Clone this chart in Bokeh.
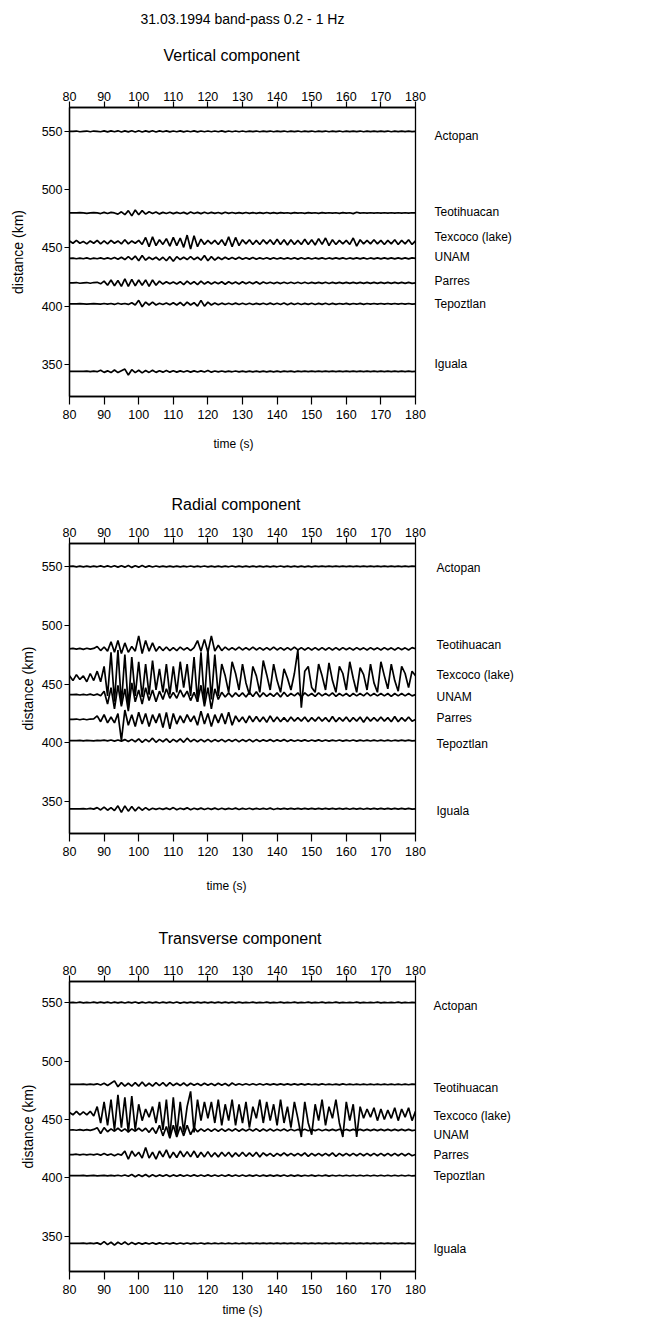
import math
from bokeh.plotting import figure
from bokeh.models import Range1d, LinearAxis, FixedTicker, AllLabels
from bokeh.core.properties import value
from bokeh.layouts import column
from bokeh.embed import file_html
from bokeh.resources import INLINE

# ---------------- data ----------------
main_title = "31.03.1994  band-pass 0.2 - 1 Hz"
panel_titles = ["Vertical component", "Radial component", "Transverse component"]
x_label = "time (s)"
y_label = "distance (km)"
x_ticks = [80, 90, 100, 110, 120, 130, 140, 150, 160, 170, 180]
y_ticks = [350, 400, 450, 500, 550]
time_s = list(range(80, 181))  # 1-s samples

stations = ["Actopan", "Teotihuacan", "Texcoco (lake)", "UNAM", "Parres", "Tepoztlan", "Iguala"]
distance_km = [550, 480, 455, 441, 420, 402, 344]

# trace deflections (km on the distance axis), one sample per second, 80..180 s
# ---- Vertical component
v_actopan = [0, 0, 0.3, -0.3, 0, 0.3, -0.3, 0.3, 0, -0.3,
             0.4, -0.4, 0.4, -0.3, 0.5, -0.5, 0.4, -0.4, 0.5, -0.5,
             0.6, -0.5, 0.4, -0.4, 0.5, -0.5, 0.4, -0.3, 0.4, -0.4,
             0.3, -0.3, 0.4, -0.4, 0.3, -0.3, 0.4, -0.4, 0.3, -0.3,
             0.3, -0.3, 0.3, -0.3, 0.4, -0.4, 0.3, -0.3, 0.3, -0.3,
             0.3, -0.3, 0.2, -0.2, 0.3, -0.3, 0.2, -0.2, 0.3, -0.3,
             0.2, -0.2, 0.3, -0.3, 0.2, -0.2, 0.3, -0.3, 0.2, -0.2,
             0.3, -0.3, 0.2, -0.2, 0.3, -0.3, 0.2, -0.2, 0.3, -0.3,
             0.2, -0.2, 0.2, -0.2, 0.3, -0.3, 0.2, -0.2, 0.2, -0.2,
             0.2, -0.2, 0.3, -0.3, 0.2, -0.2, 0.2, -0.2, 0.2, -0.2, 0]
v_teotihuacan = [0, 0, 0, 0.3, 0, -0.3, 0, 0.3, 0, -0.5,
                 0.5, -0.5, 0.5, 0, -1, 1, -1.5, 2, -2.5, 2.5,
                 -1.5, 2, -1, 1, -0.5, 0.8, -0.8, 0.5, -0.5, 0.6,
                 -0.6, 0.5, -0.5, 0.5, -0.8, 0.8, -0.5, 0.5, -0.6, 0.6,
                 -0.5, 0.5, -0.4, 0.4, -0.6, 0.6, -0.4, 0.4, -0.3, 0.3,
                 -0.4, 0.4, -0.3, 0.3, -0.3, 0.3, -0.4, 0.4, -0.3, 0.3,
                 -0.3, 0.3, -0.2, 0.2, -0.3, 0.3, -0.2, 0.2, -0.3, 0.3,
                 -0.2, 0.2, -0.3, 0.3, -0.2, 0.2, -0.2, 0.2, -0.3, 0.3,
                 -0.2, 0.2, -0.6, 0.6, -0.2, 0.2, -0.2, 0.2, -0.2, 0.2,
                 -0.2, 0.2, -0.2, 0.2, -0.2, 0.2, -0.2, 0.2, -0.2, 0.2, 0]
v_texcoco = [1, -1, 1.5, -1, 0.5, -1.5, 1, -1, 1.5, -1.5,
             1, -1.5, 1.5, -1, 1, -1.5, 2, -1.5, 1, -1,
             1.5, -2, 4, -4, 4.5, -3, 2, -2, 3, -3.5,
             4, -3, 3.5, -4.5, 6, -6, 5.5, -4, 2.5, -2,
             1.5, -1.5, 1.5, -2, 2, -3, 4.5, -4, 4, -3,
             2, -1.5, 2, -2, 1.5, -2, 2, -1.5, 2, -2,
             2.5, -2, 2, -2.5, 2, -2, 1.5, -2, 2.5, -2,
             2, -2.5, 3, -2, 3.5, -3, 2, -2, 1.5, -1.5,
             1.5, -2, 3.5, -3.5, 2, -1.5, 1.5, -1.5, 2, -1.5,
             1.5, -2, 1.5, -1.5, 2, -2, 1.5, -1.5, 2, -2, 1]
v_unam = [0, 0.3, -0.3, 0.3, -0.3, 0.5, -0.5, 0.3, -0.3, 0.5,
          -0.5, 0.5, -0.5, 0.8, -0.8, 1, -1, 1.5, -1, 2,
          -2, 2.5, -1.5, 1, -1, 1, -1.5, 1, -2, 1.5,
          -2.5, 1.5, -1, 1, -1, 1.5, -1, 1, -1.5, 2.5,
          -2, 1.5, -1.5, 1, -1, 1, -0.8, 0.8, -0.8, 1,
          -0.8, 0.6, -0.6, 0.8, -0.8, 0.5, -0.5, 0.6, -0.6, 0.5,
          -0.5, 0.5, -0.5, 0.5, -0.5, 0.5, -0.6, 0.6, -0.5, 0.5,
          -0.5, 0.4, -0.4, 0.5, -0.5, 0.4, -0.4, 0.4, -0.4, 0.5,
          -0.5, 0.4, -0.4, 0.4, -0.4, 0.5, -0.5, 0.4, -0.4, 0.4,
          -0.4, 0.4, -0.4, 0.4, -0.4, 0.4, -0.4, 0.4, -0.4, 0.4, 0]
v_parres = [0, 0, 0.3, -0.3, 0, 0.3, -0.3, 0.3, 0.5, -0.8,
            1.5, -2, 2.5, -2.5, 2, -3, 3.5, -3, 3, -2.5,
            2.5, -2, 2.5, -3, 2.5, -2, 1.5, -1, 1, -0.8,
            0.8, -1, 1, -1.5, 1.5, -1, 1, -1.5, 1.5, -1,
            1, -1, 0.8, -0.8, 1, -1.2, 1, -0.8, 0.8, -1,
            1, -0.8, 0.8, -0.8, 1, -1, 0.8, -0.6, 0.6, -0.6,
            0.5, -0.6, 0.6, -0.5, 0.5, -0.5, 0.5, -0.5, 0.5, -0.5,
            0.4, -0.4, 0.4, -0.4, 0.5, -0.5, 0.4, -0.4, 0.4, -0.4,
            0.4, -0.4, 0.4, -0.4, 0.4, -0.4, 0.4, -0.4, 0.4, -0.4,
            0.4, -0.4, 0.4, -0.4, 0.4, -0.4, 0.4, -0.4, 0.4, -0.4, 0]
v_tepoztlan = [0, 0, 0, 0.2, 0, -0.2, 0, 0.2, 0, -0.2,
               0.3, -0.3, 0.3, -0.5, 0.5, -0.3, 0.3, -0.5, 1, -1,
               3, -2.5, 1.5, -1, 1.5, -1, 0.5, -0.5, 0.8, -0.8,
               1, -1, 1.2, -1.5, 1.5, -1, 1, -2, 3, -2,
               1.5, -1, 0.8, -0.8, 0.6, -0.6, 0.5, -0.5, 0.6, -0.6,
               0.5, -0.5, 0.5, -0.5, 0.4, -0.4, 0.5, -0.5, 0.6, -0.6,
               0.5, -0.5, 0.8, -0.8, 0.6, -0.6, 0.5, -0.5, 0.4, -0.4,
               0.5, -0.5, 0.4, -0.4, 0.5, -0.5, 0.4, -0.4, 0.3, -0.3,
               0.4, -0.4, 0.3, -0.3, 0.4, -0.4, 0.3, -0.3, 0.3, -0.3,
               0.3, -0.3, 0.3, -0.3, 0.3, -0.3, 0.3, -0.3, 0.3, -0.3, 0]
v_iguala = [0, 0, 0, 0, 0, 0.2, -0.2, 0.2, -0.2, 1,
            -0.8, 0.5, -1, 1.2, -1, 0.5, 2, -3, 1.5, -1,
            1, -1.2, 0.8, -0.8, 1, -0.8, 0.6, -0.6, 0.8, -0.6,
            0.6, -0.6, 0.5, -0.5, 0.6, -0.6, 0.5, -0.5, 0.5, -0.5,
            0.8, -0.6, 0.4, -0.4, 0.4, -0.4, 0.3, -0.3, 0.4, -0.4,
            0.3, -0.3, 0.3, -0.3, 0.3, -0.3, 0.3, -0.3, 0.3, -0.3,
            0.3, -0.3, 0.2, -0.2, 0.3, -0.3, 0.2, -0.2, 0.2, -0.2,
            0.2, -0.2, 0.2, -0.2, 0.2, -0.2, 0.2, -0.2, 0.2, -0.2,
            0.2, -0.2, 0.2, -0.2, 0.2, -0.2, 0.2, -0.2, 0.2, -0.2,
            0.2, -0.2, 0.2, -0.2, 0.2, -0.2, 0.2, -0.2, 0.2, -0.2, 0]

# ---- Radial component
r_actopan = [0, 0.3, -0.3, 0.3, -0.3, 0.3, -0.3, 0.3, -0.3, 0.5,
             -0.5, 0.5, -0.5, 0.6, -0.6, 0.6, -0.6, 0.8, -0.8, 0.6,
             -0.6, 0.8, -0.6, 0.5, -0.5, 0.4, -0.4, 0.3, -0.3, 0.3,
             -0.3, 0.3, -0.3, 0.3, -0.3, 0.4, -0.4, 0.3, -0.3, 0.4,
             -0.4, 0.3, -0.3, 0.3, -0.3, 0.3, -0.3, 0.4, -0.4, 0.3,
             -0.3, 0.3, -0.3, 0.3, -0.3, 0.3, -0.3, 0.3, -0.3, 0.3,
             -0.3, 0.4, -0.4, 0.3, -0.3, 0.3, -0.3, 0.3, -0.3, 0.3,
             -0.3, 0.2, -0.2, 0.2, -0.2, 0.2, -0.2, 0.2, -0.2, 0.2,
             -0.2, 0.2, -0.2, 0.2, -0.2, 0.2, -0.2, 0.2, -0.2, 0.2,
             -0.2, 0.2, -0.2, 0.2, -0.2, 0.2, -0.2, 0.2, -0.2, 0.2, 0]
r_teotihuacan = [0, 0.3, -0.3, 0.3, -0.5, 0.5, -0.3, 0.3, 2, -1.5,
                 1.5, -2, 6, -3, 7, -4, 5, -3, 2, -2,
                 11, -4, 7, -2, 5, -2, 2, -1.5, 1.5, -1.5,
                 1, -1.5, 1.5, -1, 1, -1.5, 1, 7, -2, 8,
                 -3, 11, -2, 3, -1.5, 1.5, -1, 1, -1, 1.5,
                 -1, 1, -1, 1.5, -1, 1, -1, 1, -1, 1.5,
                 -1, 1, -1, 1, -1, 1.5, -1, 1, -1, 1,
                 -1, 1, -1, 1, -1, 1, -1, 1, -1, 1,
                 -0.8, 0.8, -1, 1, -0.8, 0.8, -1, 1, -0.8, 0.8,
                 -1, 1, -0.8, 0.8, -1, 1, -0.8, 0.8, -1, 1, 0]
r_texcoco = [2, -2, 3, -1, 2, -3, 4, -2, 6, -3,
             10, -15, 22, -20, 24, -22, 20, -25, 18, -15,
             14, -16, 12, -14, 15, -10, 8, -12, 12, -14,
             10, -12, 14, -8, 12, -15, 18, -20, 22, -20,
             24, -18, 20, -15, 12, 2, -12, 14, 4, -10,
             12, -4, -14, 10, 2, -12, 15, 3, -10, 12,
             -2, -12, 8, 0, -10, 4, 24, -25, 6, 10,
             -8, -12, 12, 2, -10, 13, -2, -12, 10, 4,
             -10, 14, 0, -12, 9, 3, -10, 12, -4, -12,
             14, 2, -9, 12, -2, -11, 10, 4, -8, 6, 2]
r_unam = [0, 0, 0.3, -0.3, 0.3, -0.3, 0.5, -0.5, 0.5, -1,
          3, -8, 6, -12, 8, -10, 5, -14, 10, -6,
          4, -8, 6, -5, 4, -6, 3, -4, 5, -3,
          2, -3, 4, -2, 3, -5, 2, -6, 8, -10,
          6, -12, 5, -4, 2, -2, 1.5, -2, 1.5, -1.5,
          1.5, -2, 2, -1.5, 2.5, -2, 1.5, -1.5, 1, -1.5,
          1.5, -2, 2, -1.5, 1, -1, 1.5, -2, 1.5, -1,
          1, -1.5, 1.5, -1, 1, -1, 1.5, -1.5, 1, -1,
          1, -1.5, 1, -1, 1, -1, 1.5, -1, 1, -1,
          1, -1, 1, -1.5, 1, -1, 1, -1, 1, -1, 0]
r_parres = [0, 0, 0.3, -0.3, 0.3, -0.3, 0.3, 0.5, 3, -2,
            4, -3, 2, -3, 5, -18, 8, -5, 4, -6,
            6, -4, 5, -6, 4, -3, 5, -7, 6, -8,
            5, -4, 3, -3, 4, -2, 3, -5, 7, -4,
            5, -6, 4, -3, 5, -4, 6, -5, 3, -2,
            2, -3, 3, -2, 2.5, -2, 2, -2.5, 3, -2,
            2, -2, 1.5, -2, 2, -1.5, 1.5, -1.5, 2, -2,
            1.5, -1.5, 2, -1.5, 1.5, -2, 2.5, -2, 1.5, -1.5,
            2, -2, 1.5, -1.5, 2, -2.5, 2, -1.5, 1.5, -1.5,
            2, -1.5, 1.5, -2, 2.5, -2, 1.5, -1.5, 2, -1.5, 0]
r_tepoztlan = [0, 0, 0, 0.2, -0.2, 0.2, 0, -0.2, 0.2, 0,
               0.3, -0.3, 0.5, -0.5, 0.5, -0.5, 0.8, -0.8, 1, -1,
               1.5, -1.5, 1, -1, 2, -1.5, 1, -1, 1.5, -1.5,
               1, -1, 1.5, -1.5, 2, -1, 1, -1, 1, -1,
               1, -1, 0.8, -0.8, 1, -1, 0.8, -0.8, 1, -1,
               0.8, -0.8, 1, -1, 0.8, -0.8, 0.6, -0.6, 0.8, -0.8,
               0.6, -0.6, 0.8, -0.8, 0.6, -0.6, 0.5, -0.5, 0.6, -0.6,
               0.5, -0.5, 0.6, -0.6, 0.5, -0.5, 0.4, -0.4, 0.5, -0.5,
               0.4, -0.4, 0.5, -0.5, 0.4, -0.4, 0.4, -0.4, 0.4, -0.4,
               0.4, -0.4, 0.4, -0.4, 0.3, -0.3, 0.3, -0.3, 0.3, -0.3, 0]
r_iguala = [0, 0, 0, 0, 0.2, -0.2, 0.3, -0.3, 1, -1,
            1.5, -1.2, 1, -1.5, 2.5, -3, 2.5, -2, 2, -1.8,
            1.5, -1.2, 1, -1, 0.5, -0.5, 0.5, -0.5, 0.6, -0.6,
            1, -0.8, 0.5, -0.5, 0.8, -0.8, 0.5, -0.5, 0.6, -0.6,
            0.5, -0.5, 0.6, -0.6, 0.5, -0.5, 0.4, -0.4, 0.6, -0.6,
            0.4, -0.4, 0.5, -0.5, 0.4, -0.4, 0.4, -0.4, 0.6, -0.6,
            0.3, -0.3, 0.3, -0.3, 0.3, -0.3, 0.3, -0.3, 0.3, -0.3,
            0.3, -0.3, 0.3, -0.3, 0.3, -0.3, 0.3, -0.3, 0.3, -0.3,
            0.4, -0.4, 0.3, -0.3, 0.4, -0.4, 0.3, -0.3, 0.3, -0.3,
            0.3, -0.3, 0.3, -0.3, 0.3, -0.3, 0.3, -0.3, 0.3, -0.3, 0]

# ---- Transverse component
t_actopan = [0, 0.2, -0.2, 0.3, -0.3, 0.2, -0.2, 0.3, -0.3, 0.3,
             -0.3, 0.4, -0.4, 0.3, -0.3, 0.4, -0.4, 0.3, -0.3, 0.5,
             -0.5, 0.4, -0.4, 0.3, -0.3, 0.4, -0.4, 0.3, -0.3, 0.4,
             -0.4, 0.5, -0.5, 0.3, -0.3, 0.3, -0.3, 0.3, -0.3, 0.3,
             -0.3, 0.3, -0.3, 0.3, -0.3, 0.3, -0.3, 0.3, -0.3, 0.3,
             -0.3, 0.2, -0.2, 0.3, -0.3, 0.2, -0.2, 0.3, -0.3, 0.2,
             -0.2, 0.3, -0.3, 0.2, -0.2, 0.3, -0.3, 0.2, -0.2, 0.3,
             -0.3, 0.2, -0.2, 0.3, -0.3, 0.2, -0.2, 0.3, -0.3, 0.2,
             -0.2, 0.2, -0.2, 0.3, -0.3, 0.2, -0.2, 0.2, -0.2, 0.3,
             -0.3, 0.2, -0.2, 0.2, -0.2, 0.3, -0.3, 0.2, -0.2, 0.2, 0]
t_teotihuacan = [0, 0, 0, 0, 0.2, -0.2, 0.2, -0.2, 0.5, -0.5,
                 1, -1, 1, 3, -2, 1.5, -1.5, 1, -1.5, 1.5,
                 -1.5, 2, -1.5, 1, -1.5, 1.5, -1, 1.5, -1.5, 1.5,
                 -1, 1, -1, 1.2, -1.2, 1, -0.8, 0.8, -1, 1,
                 -0.8, 0.8, -1, 1, -0.8, 0.8, -1.2, 1.2, -0.6, 0.6,
                 -0.5, 0.5, -0.5, 0.5, -0.5, 0.5, -0.5, 0.5, -0.4, 0.4,
                 -0.4, 0.4, -0.4, 0.4, -0.4, 0.4, -0.4, 0.4, -0.4, 0.4,
                 -0.3, 0.3, -0.4, 0.4, -0.3, 0.3, -0.3, 0.3, -0.4, 0.4,
                 -0.3, 0.3, -0.3, 0.3, -0.3, 0.3, -0.3, 0.3, -0.3, 0.3,
                 -0.3, 0.3, -0.3, 0.3, -0.3, 0.3, -0.3, 0.3, -0.3, 0.3, 0]
t_texcoco = [1, -1, 2, -1, 1.5, -1, 2, -2, 6, -8,
             10, -10, 12, -14, 16, -12, 14, -16, 15, -14,
             8, -6, 4, -3, 6, -8, 10, -14, 12, -20,
             14, -18, 10, -16, 6, 19, -16, 12, -6, 10,
             -4, 10, -8, 12, -10, 8, -6, 12, -10, 8,
             -8, 10, -12, 6, -4, 12, -8, 10, -6, 8,
             -10, 12, -8, 6, -12, 10, -4, -20, 10, -8,
             -18, 8, -6, 12, -10, 6, -4, 12, -8, -20,
             10, -6, 8, -20, 6, -4, 4, -3, 5, -6,
             4, -5, 3, -4, 5, -6, 4, -3, 5, -6, 2]
t_unam = [0, 0.2, -0.2, 0.3, -0.3, 0.3, -0.3, 0.5, 2, -3,
          2, -1.5, 1, -1, 1.5, -1, 1, -1.5, 1, -1,
          1.5, -1, 1.5, -2, 2, -3, 4, -5, 3, -7,
          4, -6, 3, -5, 4, -4, 2, -1.5, 1, -1,
          1, -1, 1, -1, 1, -1, 0.8, -0.8, 1, -1,
          0.8, -0.8, 0.8, -0.8, 1, -1, 0.8, -0.8, 0.8, -0.8,
          0.6, -0.6, 0.8, -0.8, 0.6, -0.6, 0.5, -0.5, 0.6, -0.6,
          0.5, -0.5, 0.6, -0.6, 0.5, -0.5, 0.5, -0.5, 0.6, -0.6,
          0.5, -0.5, 0.5, -0.5, 0.5, -0.5, 0.5, -0.5, 0.5, -0.5,
          0.5, -0.5, 0.5, -0.5, 0.5, -0.5, 0.5, -0.5, 0.5, -0.5, 0]
t_parres = [0, 0, 0.3, -0.3, 0.3, -0.3, 0.3, -0.3, 0.5, -0.5,
            1, -0.5, 0.5, -1, 0.5, -0.5, 3, -4, 3, -1.5,
            2, -3, 6, -3, 2, -4, 3, -2, 4, -3,
            2, -2.5, 3, -2, 2.5, -2, 3, -2.5, 2, -2,
            2.5, -2, 1.5, -2, 2, -1.5, 2, -2, 1.5, -1.5,
            2, -1.5, 1.5, -1.5, 2, -2, 1.5, -1, 1, -1.5,
            1, -1, 1.5, -1, 1, -1, 1, -1, 1.5, -1.5,
            1, -1, 1, -1, 1, -1, 1.5, -1.5, 1, -1,
            1, -1, 1, -1, 1, -1, 1, -1, 1, -1,
            1, -1, 1, -1, 1, -1, 1, -1, 1, -1, 0]
t_tepoztlan = [0, 0, 0, 0, 0.2, -0.2, 0, 0.2, -0.2, 0,
               0.2, -0.2, 0.2, -0.2, 0.3, -0.3, 0.5, -0.5, 1, -1,
               0.8, -0.8, 1, -1, 0.8, -0.8, 0.6, -0.6, 0.8, -0.8,
               0.6, -0.6, 0.6, -0.6, 0.5, -0.5, 0.6, -0.6, 0.5, -0.5,
               0.6, -0.6, 0.5, -0.5, 0.5, -0.5, 0.6, -0.6, 0.5, -0.5,
               0.5, -0.5, 0.4, -0.4, 0.5, -0.5, 0.4, -0.4, 0.4, -0.4,
               0.4, -0.4, 0.5, -0.5, 0.4, -0.4, 0.4, -0.4, 0.3, -0.3,
               0.4, -0.4, 0.3, -0.3, 0.4, -0.4, 0.3, -0.3, 0.3, -0.3,
               0.3, -0.3, 0.3, -0.3, 0.3, -0.3, 0.3, -0.3, 0.3, -0.3,
               0.3, -0.3, 0.3, -0.3, 0.3, -0.3, 0.3, -0.3, 0.3, -0.3, 0]
t_iguala = [0, 0, 0, 0, 0.2, -0.2, 0.2, -0.2, 0.5, -0.8,
            1.5, -1, 1, -1.5, 1, -0.8, 1.2, -1, 0.8, -0.8,
            0.6, -0.6, 0.5, -0.5, 0.6, -0.6, 0.5, -0.5, 0.4, -0.4,
            0.5, -0.5, 0.4, -0.4, 0.4, -0.4, 0.3, -0.3, 0.4, -0.4,
            0.3, -0.3, 0.3, -0.3, 0.3, -0.3, 0.3, -0.3, 0.3, -0.3,
            0.2, -0.2, 0.2, -0.2, 0.2, -0.2, 0.2, -0.2, 0.2, -0.2,
            0.2, -0.2, 0.2, -0.2, 0.2, -0.2, 0.2, -0.2, 0.2, -0.2,
            0.2, -0.2, 0.2, -0.2, 0.2, -0.2, 0.2, -0.2, 0.2, -0.2,
            0.2, -0.2, 0.2, -0.2, 0.2, -0.2, 0.2, -0.2, 0.2, -0.2,
            0.2, -0.2, 0.2, -0.2, 0.2, -0.2, 0.2, -0.2, 0.2, -0.2, 0]

vertical = [v_actopan, v_teotihuacan, v_texcoco, v_unam, v_parres, v_tepoztlan, v_iguala]
radial = [r_actopan, r_teotihuacan, r_texcoco, r_unam, r_parres, r_tepoztlan, r_iguala]
transverse = [t_actopan, t_teotihuacan, t_texcoco, t_unam, t_parres, t_tepoztlan, t_iguala]

# ---------------- layout / style ----------------
FONT = "Liberation Sans"
W = 649
FL, FW = 69, 346          # frame left offset and width
FR = W - FL - FW


def strip(h, texts):
    """A text-only band whose frame lines up with the panels' frames (1 unit = 1 px)."""
    s = figure(width=W, height=h, x_range=Range1d(0, FW), y_range=Range1d(0, h),
               x_axis_location=None, y_axis_location=None,
               output_backend="svg", toolbar_location=None,
               min_border_left=FL, min_border_right=FR,
               min_border_top=0, min_border_bottom=0)
    s.outline_line_color = None
    s.grid.visible = False
    for txt, x_left, y_from_top, size in texts:
        s.text(x=[x_left - FL], y=[h - y_from_top], text=[txt], text_font=value(FONT),
               text_font_size=value(size), text_color="black",
               text_align="left", text_baseline="middle")
    return s


panels = [
    dict(traces=vertical, top=27, fh=289, bottom=30, yr=(322.5, 570.5), ylab_standoff=13,
         lab_dy=[5, -1, -5, -1, -2, 0, -7], lab_standoff=19, xlab=None),
    dict(traces=radial, top=27, fh=290, bottom=30, yr=(323.0, 569.5), ylab_standoff=3,
         lab_dy=[1, -3, -3, 2, -1, 4, 2], lab_standoff=21, xlab=None),
    dict(traces=transverse, top=27, fh=290, bottom=50, yr=(320.0, 568.0), ylab_standoff=3,
         lab_dy=[4, 3, 2, 5, 0, 0, 6], lab_standoff=18, xlab=6),
]


def styled_axis(ax, ticker, tick_out, standoff):
    ax.ticker = ticker
    ax.major_label_policy = AllLabels()
    ax.major_label_text_font = FONT
    ax.major_label_text_font_size = "12.5px"
    ax.major_label_text_color = "black"
    ax.axis_line_color = "black"
    ax.axis_line_width = 1.3
    ax.major_tick_line_color = "black"
    ax.major_tick_line_width = 1.2
    ax.major_tick_in = 0
    ax.major_tick_out = tick_out
    ax.major_label_standoff = standoff
    ax.minor_tick_line_color = None
    return ax


figs = []
for i, cfg in enumerate(panels):
    y0, y1 = cfg["yr"]
    H = cfg["top"] + cfg["fh"] + cfg["bottom"]
    kpx = cfg["fh"] / (y1 - y0)   # px per km
    p = figure(width=W, height=H, x_range=Range1d(80, 180), y_range=Range1d(y0, y1),
               x_axis_location=None, y_axis_location=None,
               output_backend="svg", toolbar_location=None,
               min_border_left=FL, min_border_right=FR,
               min_border_top=cfg["top"], min_border_bottom=cfg["bottom"])
    p.grid.visible = False
    p.outline_line_color = "black"
    p.outline_line_width = 1.3

    bottom = styled_axis(LinearAxis(), FixedTicker(ticks=x_ticks), 8, 5)
    top = styled_axis(LinearAxis(), FixedTicker(ticks=x_ticks), 6, 1)
    left = styled_axis(LinearAxis(), FixedTicker(ticks=y_ticks), 5, 2)
    left.axis_label = y_label
    left.axis_label_text_font = FONT
    left.axis_label_text_font_size = "14px"
    left.axis_label_text_font_style = "normal"
    left.axis_label_text_color = "black"
    left.axis_label_standoff = cfg["ylab_standoff"]
    if cfg["xlab"] is not None:
        bottom.axis_label = x_label
        bottom.axis_label_text_font = FONT
        bottom.axis_label_text_font_size = "12px"
        bottom.axis_label_text_font_style = "normal"
        bottom.axis_label_text_color = "black"
        bottom.axis_label_standoff = cfg["xlab"]
    p.add_layout(bottom, "below")
    p.add_layout(top, "above")
    p.add_layout(left, "left")

    # station names as a right-hand axis
    lab_pos = [int(round(d - dy / kpx)) for d, dy in zip(distance_km, cfg["lab_dy"])]
    right = LinearAxis(ticker=FixedTicker(ticks=lab_pos),
                       major_label_overrides={k: n for k, n in zip(lab_pos, stations)})
    right.major_label_policy = AllLabels()
    right.axis_line_color = None
    right.major_tick_line_color = None
    right.minor_tick_line_color = None
    right.major_tick_in = 0
    right.major_tick_out = 0
    right.major_label_standoff = cfg["lab_standoff"]
    right.major_label_text_font = FONT
    right.major_label_text_font_size = "12px"
    right.major_label_text_color = "black"
    p.add_layout(right, "right")

    # seismogram traces
    for d, vals in zip(distance_km, cfg["traces"]):
        ts = time_s[:len(vals)]
        p.line(ts, [d + v for v in vals], line_color="black", line_width=1.7)
    figs.append(p)

# text bands: (text, left x in px, centre y from top of band, size)
strip_a = strip(80, [(main_title, 140, 18, "14px"), (panel_titles[0], 163, 55, "16px")])
strip_b = strip(90, [(x_label, 213, 17, "12px"), (panel_titles[1], 171, 78, "16px")])
strip_c = strip(91, [(x_label, 206, 22, "12px"), (panel_titles[2], 158, 75, "16px")])

layout = column(strip_a, figs[0], strip_b, figs[1], strip_c, figs[2], spacing=0)
open("out.html", "w").write(file_html(layout, INLINE))
